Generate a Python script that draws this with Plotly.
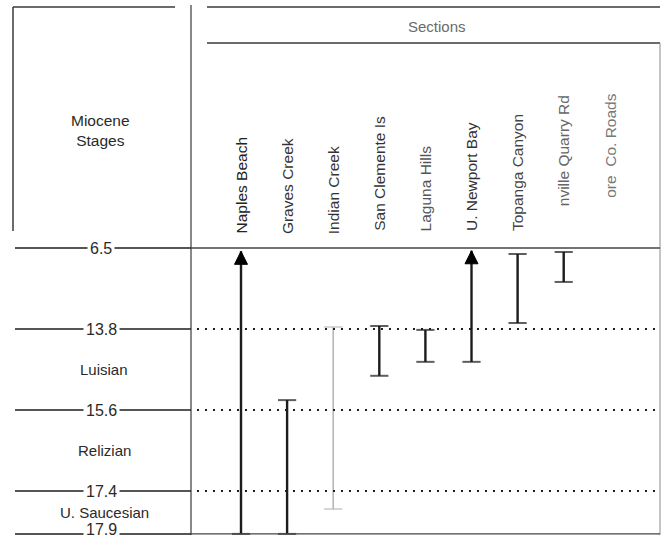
import numpy as np
import plotly.graph_objects as go

# ---------------- data ----------------
sections = ["Naples Beach", "Graves Creek", "Indian Creek", "San Clemente Is",
            "Laguna Hills", "U. Newport Bay", "Topanga Canyon",
            "nville Quarry Rd", "ore\u00a0\u00a0Co. Roads"]
# age range (Ma) of each section, young end / old end
range_young_ma = [6.8, 15.38, 13.62, 13.53, 13.82, 6.75, 7.04, 6.86, None]
range_old_ma = [17.9, 17.9, 17.61, 14.84, 14.53, 14.53, 13.26, 9.56, None]
open_upward = [True, False, False, False, False, True, False, False, False]
faint_range = [False, False, True, False, False, False, False, False, False]

boundary_ages = [6.5, 13.8, 15.6, 17.4, 17.9]
boundary_labels = ["6.5", "13.8", "15.6", "17.4", "17.9"]
stage_names = ["Luisian", "Relizian", "U. Saucesian"]  # 13.8-15.6, 15.6-17.4, 17.4-17.9
header_title = "Sections"
stub_title = "Miocene<br>Stages"

# stage scale (each stage band drawn with equal height, last one about half)
boundary_pos = [0, 1, 2, 3, 3.53]


def to_pos(age):
    return float(np.interp(age, boundary_ages, boundary_pos))


W, H = 664, 538


def X(px):
    return px / W


def Y(py):
    return 1 - py / H


FONT = "Liberation Sans, Arial, sans-serif"
INK = "#1c1c1c"

fig = go.Figure()

for name, yng, old, up, faint in zip(sections, range_young_ma, range_old_ma,
                                     open_upward, faint_range):
    if yng is None:
        continue
    col = "#b8b8b8" if faint else INK
    lw = 1.6 if faint else 2.4
    fig.add_trace(go.Scatter(
        x=[name, name], y=[to_pos(old), to_pos(yng)],
        mode="lines+markers",
        line=dict(color=col, width=lw),
        marker=dict(symbol="line-ew", size=[13, 0 if up else 13], color=col,
                    line=dict(color=col, width=2 if not faint else 1.6)),
        showlegend=False, hoverinfo="skip"))
    if up:
        # arrow head marking a range that continues upward
        fig.add_trace(go.Scatter(
            x=[name], y=[to_pos(yng)], mode="markers",
            marker=dict(symbol="arrow-up", size=13, color="#000000",
                        line=dict(color="#000000", width=1)),
            showlegend=False, hoverinfo="skip"))

shapes = []
line_col = "#3a3a3a"
# table frame
shapes += [
    dict(type="line", xref="paper", yref="paper", x0=X(13), x1=X(175), y0=Y(7), y1=Y(7),
         line=dict(color=line_col, width=1.5)),
    dict(type="line", xref="paper", yref="paper", x0=X(207), x1=X(660), y0=Y(7), y1=Y(7),
         line=dict(color=line_col, width=1.5)),
    dict(type="line", xref="paper", yref="paper", x0=X(13), x1=X(13), y0=Y(7), y1=Y(231),
         line=dict(color=line_col, width=1.5)),
    dict(type="line", xref="paper", yref="paper", x0=X(191), x1=X(191), y0=Y(5), y1=Y(535),
         line=dict(color=line_col, width=1.2)),
    dict(type="line", xref="paper", yref="paper", x0=X(207), x1=X(660), y0=Y(43), y1=Y(43),
         line=dict(color=line_col, width=1.5)),
    dict(type="line", xref="paper", yref="paper", x0=X(660), x1=X(660), y0=Y(43), y1=Y(535),
         line=dict(color="#8a8a8a", width=1)),
]

annotations = []
for i, (age, lab) in enumerate(zip(boundary_ages, boundary_labels)):
    yp = to_pos(age)
    shapes.append(dict(type="line", xref="paper", yref="y", x0=X(15), x1=X(191),
                       y0=yp, y1=yp, line=dict(color=INK, width=1.5)))
    solid = i == 0 or i == len(boundary_ages) - 1
    shapes.append(dict(type="line", xref="paper", yref="y",
                       x0=X(191 if solid else 197), x1=X(660), y0=yp, y1=yp,
                       line=dict(color="#444444" if solid else INK,
                                 width=1.3 if solid else 1.8,
                                 dash="solid" if solid else "2px,6px")))
    annotations.append(dict(xref="paper", yref="y", x=X(101), y=yp, text=lab,
                            showarrow=False, xanchor="center", yanchor="middle",
                            yshift=4 if i == len(boundary_ages) - 1 else 0,
                            bgcolor="white", borderpad=2,
                            font=dict(family=FONT, size=16, color="#2a2a2a")))

for k, sname in enumerate(stage_names):
    ym = (to_pos(boundary_ages[k + 1]) + to_pos(boundary_ages[k + 2])) / 2
    annotations.append(dict(xref="paper", yref="y", x=X(104), y=ym, text=sname,
                            showarrow=False, xanchor="center", yanchor="middle",
                            font=dict(family=FONT, size=15, color="#2a2a2a")))

annotations.append(dict(xref="paper", yref="paper", x=X(100), y=Y(130), text=stub_title,
                        showarrow=False, xanchor="center", yanchor="middle",
                        font=dict(family=FONT, size=15.5, color="#2a2a2a")))
annotations.append(dict(xref="paper", yref="paper", x=X(437), y=Y(26), text=header_title,
                        showarrow=False, xanchor="center", yanchor="middle",
                        font=dict(family=FONT, size=15, color="#6a6a6a")))

label_bottom_px = [236, 236, 236, 233, 233, 233, 233, 208, 200]
label_colors = ["#222", "#333", "#333", "#333", "#555", "#333", "#444", "#666", "#777"]
for name, bpx, c in zip(sections, label_bottom_px, label_colors):
    annotations.append(dict(xref="x", yref="paper", x=name, y=Y(bpx), text=name,
                            textangle=-90, showarrow=False,
                            xanchor="center", yanchor="bottom",
                            font=dict(family=FONT, size=15.5, color=c)))

px_per_col = 46.1
x0_px = 241
px_per_stage = 81
y0_px = 248

fig.update_layout(
    width=W, height=H,
    margin=dict(l=0, r=0, t=0, b=0),
    paper_bgcolor="white", plot_bgcolor="white",
    xaxis=dict(type="category", categoryorder="array", categoryarray=sections,
               range=[-x0_px / px_per_col, (W - x0_px) / px_per_col],
               visible=False, fixedrange=True),
    yaxis=dict(range=[(H - y0_px) / px_per_stage, -y0_px / px_per_stage],
               visible=False, fixedrange=True),
    shapes=shapes, annotations=annotations,
    showlegend=False,
)

fig.write_html("out.html", config={"displayModeBar": False},
               post_script="document.body.style.margin='0';document.body.style.overflow='hidden';")
